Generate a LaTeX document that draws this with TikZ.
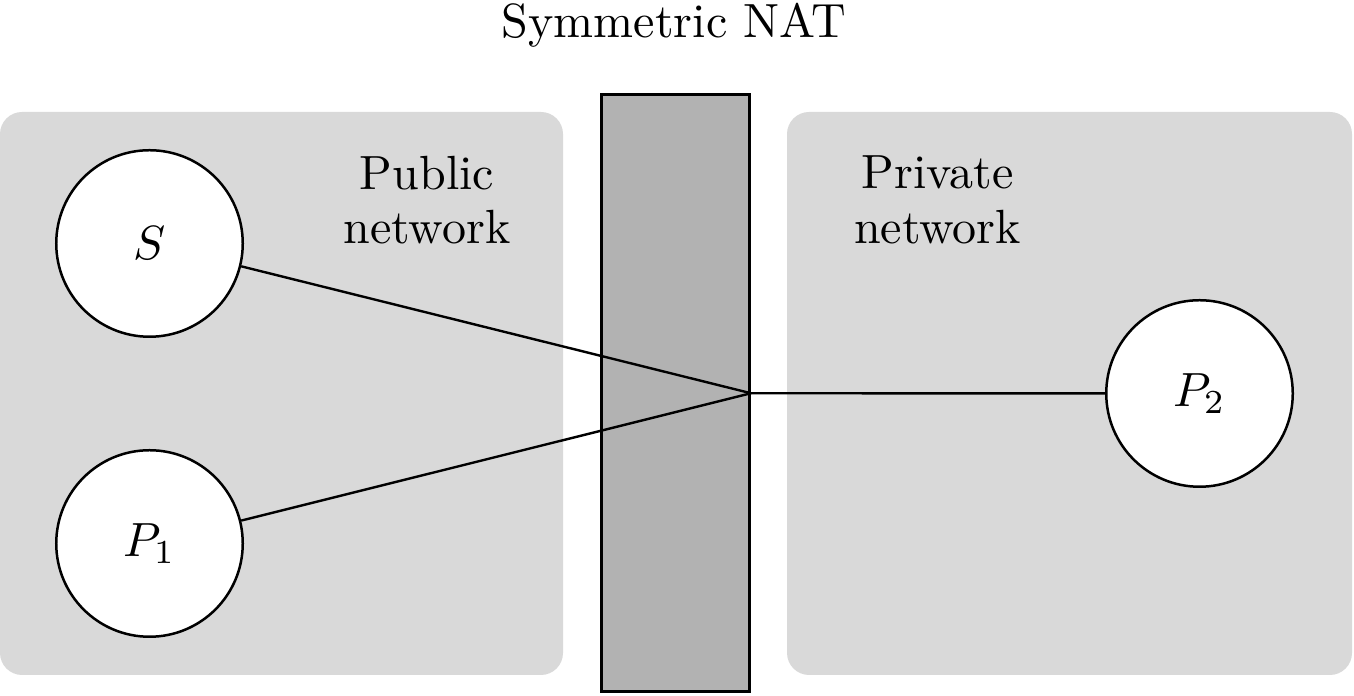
\documentclass[tikz,border=0pt]{standalone}
\begin{document}
\begin{tikzpicture}[x=0.2083pt,y=-0.2083pt,
  panel/.style={fill=black!15, rounded corners=4.6pt},
  nat/.style={draw, fill=black!30, line width=0.62pt, inner sep=0pt},
  host/.style={circle, draw, fill=white, line width=0.52pt, minimum size=38.85pt, inner sep=0pt},
  link/.style={line width=0.5pt},
  label/.style={align=center, inner sep=0pt}]
\useasboundingbox (0,0) rectangle (1354,696);
\fill[panel] (0,112) rectangle (563,675);
\fill[panel] (787,112) rectangle (1352,675);
\node[nat, minimum width=148pt*0.2083, minimum height=596.5pt*0.2083] (nat) at (675.5,393.25) {};
\node[label, anchor=base] (title) at (674,38) {Symmetric NAT};
\node[label] (pub) at (427,200) {Public\\[-0.7pt]network};
\node[label] (priv) at (937.5,200) {Private\\[-0.7pt]network};
\node[host] (S) at (149.5,243.5) {$S$};
\node[host] (P1) at (149.5,543.5) {$P_1$};
\node[host] (P2) at (1199.5,393.5) {$P_2$};
\coordinate (j) at (nat.east);
\draw[link] (S) -- (j);
\draw[link] (P1) -- (j);
\draw[link] (P2) -- (j);
\end{tikzpicture}
\end{document}
